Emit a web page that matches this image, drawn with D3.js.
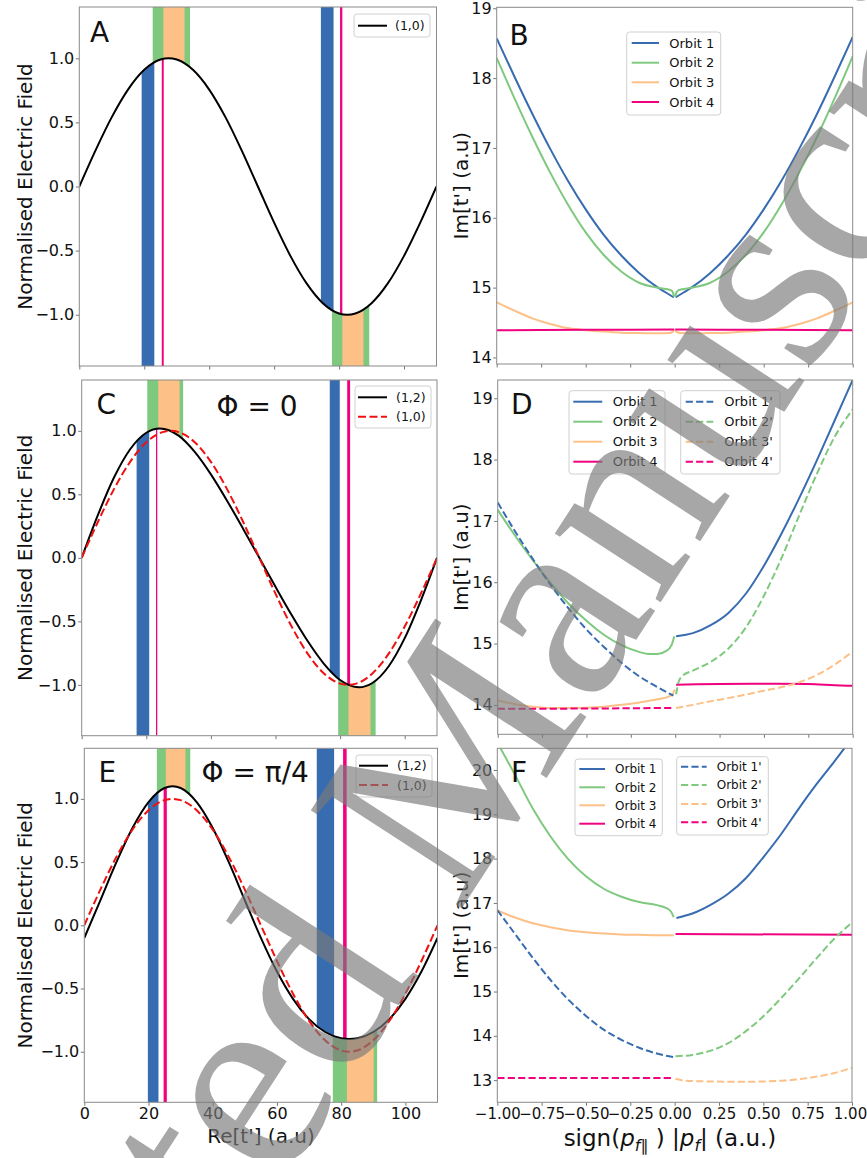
<!DOCTYPE html>
<html><head><meta charset="utf-8">
<script src="https://cdn.jsdelivr.net/npm/d3@7"></script>
<style>
body{margin:0;background:#fff}
svg{display:block}
text{font-family:"DejaVu Sans",sans-serif;fill:#111}
</style>
</head><body>
<svg id="chart" width="867" height="1158"></svg>
<script>
// ---------------- DATA ----------------
const panelLetters = ["A","B","C","D","E","F"];
const phaseLabels = ["Φ = 0","Φ = π/4"];
const fieldLegend = ["(1,2)","(1,0)"];
const orbitLabels = ["Orbit 1","Orbit 2","Orbit 3","Orbit 4"];
const orbitPrimeLabels = ["Orbit 1'","Orbit 2'","Orbit 3'","Orbit 4'"];
const watermarkText = "Accepted Manuscript";
const ticksRe = [0,20,40,60,80,100];
const ticksField = [-1.0,-0.5,0.0,0.5,1.0];
const ticksP = [-1,-0.75,-0.5,-0.25,0,0.25,0.5,0.75,1];
const ticksImB = [14,15,16,17,18,19];
const ticksImD = [14,15,16,17,18,19];
const ticksImF = [13,14,15,16,17,18,19,20];

// field (1,0) : times and values
const t10 = [0,5,10,15,20,25,27.5,30,35,40,45,50,55,60,65,70,75,80,82.5,85,90,95,100,105,110];
const e10 = [0,0.282,0.541,0.756,0.910,0.990,1.0,0.990,0.910,0.756,0.541,0.282,0,-0.282,-0.541,-0.756,-0.910,-0.990,-1.0,-0.990,-0.910,-0.756,-0.541,-0.282,0];
// field (1,2), phi = 0
const t12C = [0,5,10,15,20,24.2,30,35,40,45,50,55,60,65,70,75,80,85.8,90,95,100,105,110];
const e12C = [0,0.336,0.632,0.855,0.985,1.019,0.962,0.834,0.657,0.450,0.228,0,-0.228,-0.450,-0.657,-0.834,-0.962,-1.019,-0.985,-0.855,-0.632,-0.336,0];
// field (1,2), phi = pi/4
const t12E = [0,5,10,15,20,25,27.5,30,35,40,45,50,55,60,65,70,75,80,82.5,85,90,95,100,105,110];
const e12E = [-0.100,0.198,0.499,0.770,0.975,1.086,1.100,1.086,0.975,0.770,0.499,0.198,-0.100,-0.366,-0.582,-0.742,-0.844,-0.894,-0.900,-0.894,-0.844,-0.742,-0.582,-0.366,-0.100];

// ionisation windows [start, end] of Re[t'] per orbit (first and second half cycle)
const A_orbit1 = [[19.2,23.1],[74.4,78.3]];
const A_orbit2 = [[22.6,34.1],[77.8,89.3]];
const A_orbit3 = [[25.9,32.4],[81.0,87.5]];
const A_orbit4 = [[25.4,26.0],[80.3,81.0]];
const C_orbit1 = [[17.0,20.9],[76.8,79.9]];
const C_orbit2 = [[20.3,31.4],[79.4,91.0]];
const C_orbit3 = [[23.7,30.3],[82.6,89.4]];
const C_orbit4 = [[23.0,23.4],[82.2,83.1]];
const E_orbit1 = [[19.8,23.1],[72.4,77.8]];
const E_orbit2 = [[22.6,33.0],[77.4,91.2]];
const E_orbit3 = [[25.4,31.5],[81.8,90.1]];
const E_orbit4 = [[24.7,25.7],[80.6,81.7]];

// Im[t'] vs sign(p) |p|
const B_orbit1_neg = [[-1,18.57],[-0.9,18.02],[-0.8,17.49],[-0.7,16.99],[-0.6,16.53],[-0.5,16.12],[-0.4,15.76],[-0.3,15.46],[-0.2,15.21],[-0.1,15.01],[-0.05,14.93],[-0.005,14.86]];
const B_orbit1_pos = [[0.005,14.86],[0.05,14.93],[0.1,15.01],[0.2,15.21],[0.3,15.46],[0.4,15.76],[0.5,16.12],[0.6,16.53],[0.7,16.99],[0.8,17.49],[0.9,18.03],[1,18.59]];
const B_orbit2_neg = [[-1,18.29],[-0.9,17.71],[-0.8,17.16],[-0.7,16.65],[-0.6,16.19],[-0.5,15.79],[-0.4,15.47],[-0.3,15.23],[-0.2,15.07],[-0.1,15.00],[-0.05,14.98],[-0.02,14.96],[-0.01,14.93],[-0.003,14.87]];
const B_orbit2_pos = [[0.003,14.87],[0.01,14.93],[0.02,14.96],[0.05,14.98],[0.1,15.00],[0.2,15.07],[0.3,15.23],[0.4,15.47],[0.5,15.79],[0.6,16.19],[0.7,16.65],[0.8,17.16],[0.9,17.72],[1,18.31]];
const B_orbit3_neg = [[-1,14.79],[-0.9,14.67],[-0.8,14.56],[-0.7,14.48],[-0.6,14.42],[-0.5,14.39],[-0.4,14.37],[-0.3,14.355],[-0.2,14.35],[-0.1,14.345],[-0.03,14.35],[-0.01,14.37],[-0.002,14.40]];
const B_orbit3_pos = [[0.002,14.40],[0.01,14.37],[0.03,14.35],[0.1,14.345],[0.2,14.35],[0.3,14.355],[0.4,14.37],[0.5,14.39],[0.6,14.42],[0.7,14.48],[0.8,14.56],[0.9,14.67],[1,14.79]];
const B_orbit4_neg = [[-1,14.39],[-0.5,14.395],[-0.003,14.40]];
const B_orbit4_pos = [[0.003,14.40],[0.5,14.395],[1,14.39]];

const D_orbit1 = [[0.005,15.12],[0.1,15.17],[0.2,15.30],[0.3,15.50],[0.4,15.82],[0.5,16.27],[0.6,16.80],[0.7,17.38],[0.8,18.00],[0.9,18.65],[1,19.30]];
const D_orbit2 = [[-1,17.18],[-0.9,16.75],[-0.8,16.35],[-0.7,15.98],[-0.6,15.65],[-0.5,15.37],[-0.4,15.14],[-0.3,14.97],[-0.2,14.86],[-0.15,14.83],[-0.1,14.83],[-0.05,14.88],[-0.02,14.98],[-0.005,15.12]];
const D_orbit3 = [[-1,14.07],[-0.9,14.01],[-0.8,13.97],[-0.7,13.95],[-0.6,13.95],[-0.5,13.955],[-0.4,13.97],[-0.3,14.00],[-0.2,14.04],[-0.1,14.09],[-0.04,14.13],[-0.015,14.17],[-0.003,14.25]];
const D_orbit4 = [[0.005,14.33],[0.25,14.34],[0.5,14.345],[0.75,14.34],[0.9,14.32],[1,14.31]];
const D_orbit1p = [[-1,17.30],[-0.9,16.82],[-0.8,16.37],[-0.7,15.95],[-0.6,15.57],[-0.5,15.23],[-0.4,14.94],[-0.3,14.68],[-0.2,14.46],[-0.1,14.29],[-0.01,14.15]];
const D_orbit2p = [[0.005,14.17],[0.02,14.38],[0.04,14.47],[0.1,14.56],[0.2,14.70],[0.3,14.92],[0.4,15.27],[0.5,15.78],[0.6,16.40],[0.7,17.10],[0.8,17.78],[0.9,18.38],[1,18.82]];
const D_orbit3p = [[0.005,13.95],[0.1,14.00],[0.2,14.06],[0.3,14.11],[0.4,14.17],[0.5,14.23],[0.6,14.29],[0.7,14.37],[0.8,14.49],[0.9,14.66],[1,14.87]];
const D_orbit4p = [[-1,13.935],[-0.5,13.94],[-0.005,13.95]];

const F_orbit1 = [[0.01,16.66],[0.1,16.76],[0.2,16.95],[0.3,17.20],[0.4,17.55],[0.5,18.03],[0.6,18.55],[0.7,19.13],[0.8,19.68],[0.9,20.19],[1,20.72]];
const F_orbit2 = [[-1,20.62],[-0.9,19.89],[-0.8,19.13],[-0.7,18.50],[-0.6,17.99],[-0.5,17.60],[-0.4,17.32],[-0.3,17.14],[-0.2,17.02],[-0.1,16.95],[-0.05,16.89],[-0.02,16.80],[-0.005,16.68]];
const F_orbit3 = [[-1,16.83],[-0.9,16.67],[-0.8,16.54],[-0.7,16.45],[-0.6,16.38],[-0.5,16.34],[-0.4,16.31],[-0.3,16.29],[-0.2,16.28],[-0.1,16.27],[-0.005,16.27]];
const F_orbit4 = [[0.005,16.30],[1,16.28]];
const F_orbit1p = [[-1,16.84],[-0.9,16.30],[-0.8,15.76],[-0.7,15.26],[-0.6,14.82],[-0.5,14.45],[-0.4,14.14],[-0.3,13.91],[-0.2,13.73],[-0.1,13.60],[-0.005,13.52]];
const F_orbit2p = [[0.005,13.54],[0.1,13.57],[0.2,13.66],[0.3,13.83],[0.4,14.10],[0.5,14.44],[0.6,14.85],[0.7,15.29],[0.8,15.75],[0.9,16.19],[1,16.56]];
const F_orbit3p = [[0.005,13.03],[0.05,12.99],[0.1,12.98],[0.2,12.97],[0.3,12.965],[0.4,12.965],[0.5,12.97],[0.6,12.985],[0.7,13.02],[0.8,13.08],[0.9,13.16],[1,13.28]];
const F_orbit4p = [[-1,13.05],[-0.005,13.05]];

// ---------------- DRAWING ----------------
const COL = {o1:"#386cb0", o2:"#7fc97f", o3:"#fdc086", o4:"#f0027f"};
const svg = d3.select("#chart");
const defs = svg.append("defs");
const fmt1 = d3.format(".1f"), fmt2 = d3.format(".2f"), fmt0 = d3.format("d");

function axes(g, x, y, xt, yt, xf, yf, showX, xfs) {
  const gx = g.append("g").attr("transform", `translate(0,${y.range()[0]})`)
    .call(d3.axisBottom(x).tickValues(xt).tickSize(3.5).tickPadding(2.2).tickSizeOuter(0)
      .tickFormat(showX ? xf : () => ""));
  const gy = g.append("g").attr("transform", `translate(${x.range()[0]},0)`)
    .call(d3.axisLeft(y).tickValues(yt).tickSize(3.5).tickPadding(1.5).tickSizeOuter(0).tickFormat(yf));
  [gx, gy].forEach(a => {
    a.select(".domain").remove();
    a.attr("font-family", null).attr("font-size", null);
    a.selectAll("line").attr("stroke", "#777");
    a.selectAll("text").attr("font-size", 16).attr("fill", "#111");
  });
  if (xfs) {
    gx.selectAll("text").attr("font-size", xfs);
    const last = gx.selectAll("text").filter((d, i, n) => i === n.length - 1);
    last.attr("x", -2);
  }
  g.append("rect").attr("x", x.range()[0]).attr("y", y.range()[1])
    .attr("width", x.range()[1] - x.range()[0]).attr("height", y.range()[0] - y.range()[1])
    .attr("fill", "none").attr("stroke", "#8a8a8a").attr("stroke-width", 1);
}

function legend(g, box, rows, fs) {
  g.append("rect").attr("x", box.x).attr("y", box.y).attr("width", box.w).attr("height", box.h)
    .attr("rx", 3).attr("fill", "#fff").attr("fill-opacity", 0.8).attr("stroke", "#d0d0d0");
  rows.forEach((r, i) => {
    const yy = box.rows[i];
    g.append("line").attr("x1", box.l0).attr("x2", box.l1).attr("y1", yy).attr("y2", yy)
      .attr("stroke", r.color).attr("stroke-width", r.w || 2).attr("stroke-dasharray", r.dash || null);
    g.append("text").attr("x", box.tx).attr("y", yy).attr("dy", "0.36em").attr("font-size", fs).text(r.label);
  });
}

function clipRect(id, x, y) {
  defs.append("clipPath").attr("id", id).append("rect")
    .attr("x", x.range()[0]).attr("y", y.range()[1])
    .attr("width", x.range()[1] - x.range()[0]).attr("height", y.range()[0] - y.range()[1]);
}

function fieldPanel(p) {
  const x = d3.scaleLinear().domain([0, 110]).range([p.l, p.r]);
  const y = d3.scaleLinear().domain([-1.4, 1.4]).range([p.b, p.t]);
  const g = svg.append("g");
  const ref = p.ref;
  const pts = ref.t.map((t, i) => [t, ref.e[i]]);
  const below = d3.area().x(d => x(d[0])).y0(p.b).y1(d => y(d[1])).curve(d3.curveMonotoneX);
  const above = d3.area().x(d => x(d[0])).y0(p.t).y1(d => y(d[1])).curve(d3.curveMonotoneX);
  defs.append("clipPath").attr("id", p.id + "below").append("path").attr("d", below(pts));
  defs.append("clipPath").attr("id", p.id + "above").append("path").attr("d", above(pts));
  clipRect(p.id + "plot", x, y);
  const order = [["o2", p.bands.o2], ["o3", p.bands.o3], ["o1", p.bands.o1], ["o4", p.bands.o4]];
  order.forEach(([k, arr]) => {
    arr.forEach((w, i) => {
      const isLow = (k === "o1" || k === "o4") === (i === 0);
      g.append("rect").attr("x", x(w[0])).attr("width", x(w[1]) - x(w[0]))
        .attr("y", p.t).attr("height", p.b - p.t).attr("fill", COL[k])
        .attr("clip-path", `url(#${p.id}${isLow ? "below" : "above"})`);
    });
  });
  const line = d3.line().x(d => x(d[0])).y(d => y(d[1])).curve(d3.curveMonotoneX);
  const lg = g.append("g").attr("clip-path", `url(#${p.id}plot)`);
  p.lines.forEach(s => {
    lg.append("path").attr("d", line(s.t.map((t, i) => [t, s.e[i]])))
      .attr("fill", "none").attr("stroke", s.color).attr("stroke-width", s.w)
      .attr("stroke-dasharray", s.dash || null);
  });
  axes(g, x, y, ticksRe, ticksField, fmt0, fmt1, p.showX);
  legend(g, p.leg, p.lines.map(s => ({label: s.label, color: s.color, dash: s.dash, w: s.w})), 12.5);
  g.append("text").attr("x", p.letter[0]).attr("y", p.letter[1]).attr("font-size", 28).text(p.letter[2]);
  if (p.phi) g.append("text").attr("x", p.phi[0]).attr("y", p.phi[1]).attr("font-size", 28).text(p.phi[2]);
  g.append("text").attr("transform", `translate(32,${(p.t + p.b) / 2}) rotate(-90)`)
    .attr("text-anchor", "middle").attr("font-size", 20).text("Normalised Electric Field");
  return {x, y, g};
}

function orbitPanel(p) {
  const x = d3.scaleLinear().domain([-1, 1]).range([p.l, p.r]);
  const y = d3.scaleLinear().domain(p.yd).range([p.b, p.t]);
  const g = svg.append("g");
  clipRect(p.id + "plot", x, y);
  const line = d3.line().x(d => x(d[0])).y(d => y(d[1])).curve(d3.curveMonotoneX);
  const lg = g.append("g").attr("clip-path", `url(#${p.id}plot)`);
  p.series.forEach(s => {
    s.parts.forEach(pts => {
      lg.append("path").attr("d", line(pts)).attr("fill", "none").attr("stroke", s.color)
        .attr("stroke-width", 2).attr("stroke-dasharray", s.dash ? "7.2,3.2" : null);
    });
  });
  axes(g, x, y, ticksP, p.yt, fmt2, fmt0, p.showX, p.showX ? 15 : null);
  p.legs.forEach(L => legend(g, L.box, L.rows, L.fs));
  g.append("text").attr("x", p.letter[0]).attr("y", p.letter[1]).attr("font-size", 28).text(p.letter[2]);
  g.append("text").attr("transform", `translate(467.5,${(p.t + p.b) / 2}) rotate(-90)`)
    .attr("text-anchor", "middle").attr("font-size", 20).text("Im[t'] (a.u)");
  return {x, y, g};
}

// ---- Panel A ----
fieldPanel({
  id: "A", l: 79.3, r: 436.5, t: 7, b: 366, showX: false,
  ref: {t: t10, e: e10},
  bands: {o1: A_orbit1, o2: A_orbit2, o3: A_orbit3, o4: A_orbit4},
  lines: [{t: t10, e: e10, color: "#000", w: 2, label: "(1,0)"}],
  leg: {x: 354, y: 14, w: 76, h: 23, rows: [25.7], l0: 358, l1: 387, tx: 395},
  letter: [90, 42, panelLetters[0]]
});
// ---- Panel C ----
fieldPanel({
  id: "C", l: 81.7, r: 437, t: 380, b: 735.7, showX: false,
  ref: {t: t12C, e: e12C},
  bands: {o1: C_orbit1, o2: C_orbit2, o3: C_orbit3, o4: C_orbit4},
  lines: [{t: t12C, e: e12C, color: "#000", w: 2, label: fieldLegend[0]},
          {t: t10, e: e10, color: "#f01010", w: 2, dash: "8,3.5", label: fieldLegend[1]}],
  leg: {x: 355, y: 386, w: 76, h: 42, rows: [397.3, 416.7], l0: 358, l1: 387, tx: 396},
  letter: [96.5, 414, panelLetters[2]], phi: [216.5, 416, phaseLabels[0]]
});
// ---- Panel E ----
fieldPanel({
  id: "E", l: 84.3, r: 437.5, t: 748.3, b: 1102.3, showX: true,
  ref: {t: t12E, e: e12E},
  bands: {o1: E_orbit1, o2: E_orbit2, o3: E_orbit3, o4: E_orbit4},
  lines: [{t: t12E, e: e12E, color: "#000", w: 2, label: fieldLegend[0]},
          {t: t10, e: e10, color: "#f01010", w: 2, dash: "8,3.5", label: fieldLegend[1]}],
  leg: {x: 356, y: 755, w: 76, h: 42, rows: [765.7, 785], l0: 359, l1: 388, tx: 397},
  letter: [98.5, 782, panelLetters[4]], phi: [201.5, 782, phaseLabels[1]]
});
svg.append("text").attr("x", 261).attr("y", 1143).attr("text-anchor", "middle").attr("font-size", 20).text("Re[t'] (a.u)");

const solidRows = orbitLabels.map((l, i) => ({label: l, color: COL["o" + (i + 1)]}));
const dashRows = orbitPrimeLabels.map((l, i) => ({label: l, color: COL["o" + (i + 1)], dash: "7.2,3.2"}));

// ---- Panel B ----
orbitPanel({
  id: "B", l: 496.7, r: 852.7, t: 7.3, b: 364, yd: [13.906, 19.014], yt: ticksImB, showX: false,
  series: [
    {color: COL.o1, parts: [B_orbit1_neg, B_orbit1_pos]},
    {color: COL.o2, parts: [B_orbit2_neg, B_orbit2_pos]},
    {color: COL.o3, parts: [B_orbit3_neg, B_orbit3_pos]},
    {color: COL.o4, parts: [B_orbit4_neg, B_orbit4_pos]}
  ],
  legs: [{box: {x: 626.7, y: 32, w: 94, h: 83, rows: [43, 62.7, 82.3, 102], l0: 631.7, l1: 659, tx: 669.3}, rows: solidRows, fs: 13}],
  letter: [509.5, 45, panelLetters[1]]
});
// ---- Panel D ----
orbitPanel({
  id: "D", l: 497.7, r: 852.7, t: 380, b: 734.3, yd: [13.52, 19.298], yt: ticksImD, showX: false,
  series: [
    {color: COL.o1, parts: [D_orbit1]},
    {color: COL.o2, parts: [D_orbit2]},
    {color: COL.o3, parts: [D_orbit3]},
    {color: COL.o4, parts: [D_orbit4]},
    {color: COL.o1, dash: true, parts: [D_orbit1p]},
    {color: COL.o2, dash: true, parts: [D_orbit2p]},
    {color: COL.o3, dash: true, parts: [D_orbit3p]},
    {color: COL.o4, dash: true, parts: [D_orbit4p]}
  ],
  legs: [
    {box: {x: 569, y: 390.7, w: 96, h: 83.3, rows: [401.7, 421.7, 441.7, 461.7], l0: 573.3, l1: 602.3, tx: 612.7}, rows: solidRows, fs: 13},
    {box: {x: 680.7, y: 390.7, w: 99.3, h: 83.3, rows: [401.7, 421.7, 441.7, 461.7], l0: 685.7, l1: 713.3, tx: 724.3}, rows: dashRows, fs: 13}
  ],
  letter: [511, 414, panelLetters[3]]
});
// ---- Panel F ----
orbitPanel({
  id: "F", l: 497.3, r: 852, t: 748.3, b: 1102.3, yd: [12.5, 20.49], yt: ticksImF, showX: true,
  series: [
    {color: COL.o1, parts: [F_orbit1]},
    {color: COL.o2, parts: [F_orbit2]},
    {color: COL.o3, parts: [F_orbit3]},
    {color: COL.o4, parts: [F_orbit4]},
    {color: COL.o1, dash: true, parts: [F_orbit1p]},
    {color: COL.o2, dash: true, parts: [F_orbit2p]},
    {color: COL.o3, dash: true, parts: [F_orbit3p]},
    {color: COL.o4, dash: true, parts: [F_orbit4p]}
  ],
  legs: [
    {box: {x: 575, y: 759, w: 87.3, h: 76.7, rows: [769, 787.3, 805.3, 823.7], l0: 579.3, l1: 605, tx: 615}, rows: solidRows, fs: 12},
    {box: {x: 676.7, y: 756.7, w: 91.6, h: 78.3, rows: [766.7, 785, 804, 822.3], l0: 681, l1: 706.7, tx: 716.7}, rows: dashRows, fs: 12}
  ],
  letter: [511, 782, panelLetters[5]]
});
// x label of F (math-style)
const xl = svg.append("text").attr("x", 670).attr("y", 1146).attr("text-anchor", "middle").attr("font-size", 23);
xl.append("tspan").text("sign(");
xl.append("tspan").attr("font-style", "italic").text("p");
xl.append("tspan").attr("font-style", "italic").attr("font-size", 16).attr("dy", 5).text("f");
xl.append("tspan").attr("font-size", 16).text("∥");
xl.append("tspan").attr("dy", -5).text(" ) |");
xl.append("tspan").attr("font-style", "italic").text("p");
xl.append("tspan").attr("font-style", "italic").attr("font-size", 16).attr("dy", 5).text("f");
xl.append("tspan").attr("dy", -5).text("| (a.u.)");

// ---- diagonal "Accepted Manuscript" watermark over the figure ----
const wmSize = 275;
const wm = svg.append("text")
  .style("font-family", "'Liberation Serif','DejaVu Serif',serif")
  .style("fill", "#7a7a7a").style("fill-opacity", 0.66)
  .attr("font-size", wmSize).text(watermarkText);
const aIdx = watermarkText.indexOf("Ma") + 1;
const off = wm.node().getSubStringLength(0, aIdx);
wm.attr("x", -off).attr("y", 0)
  .attr("transform", "translate(590.7,709.9) rotate(-57)");
</script>
</body></html>
